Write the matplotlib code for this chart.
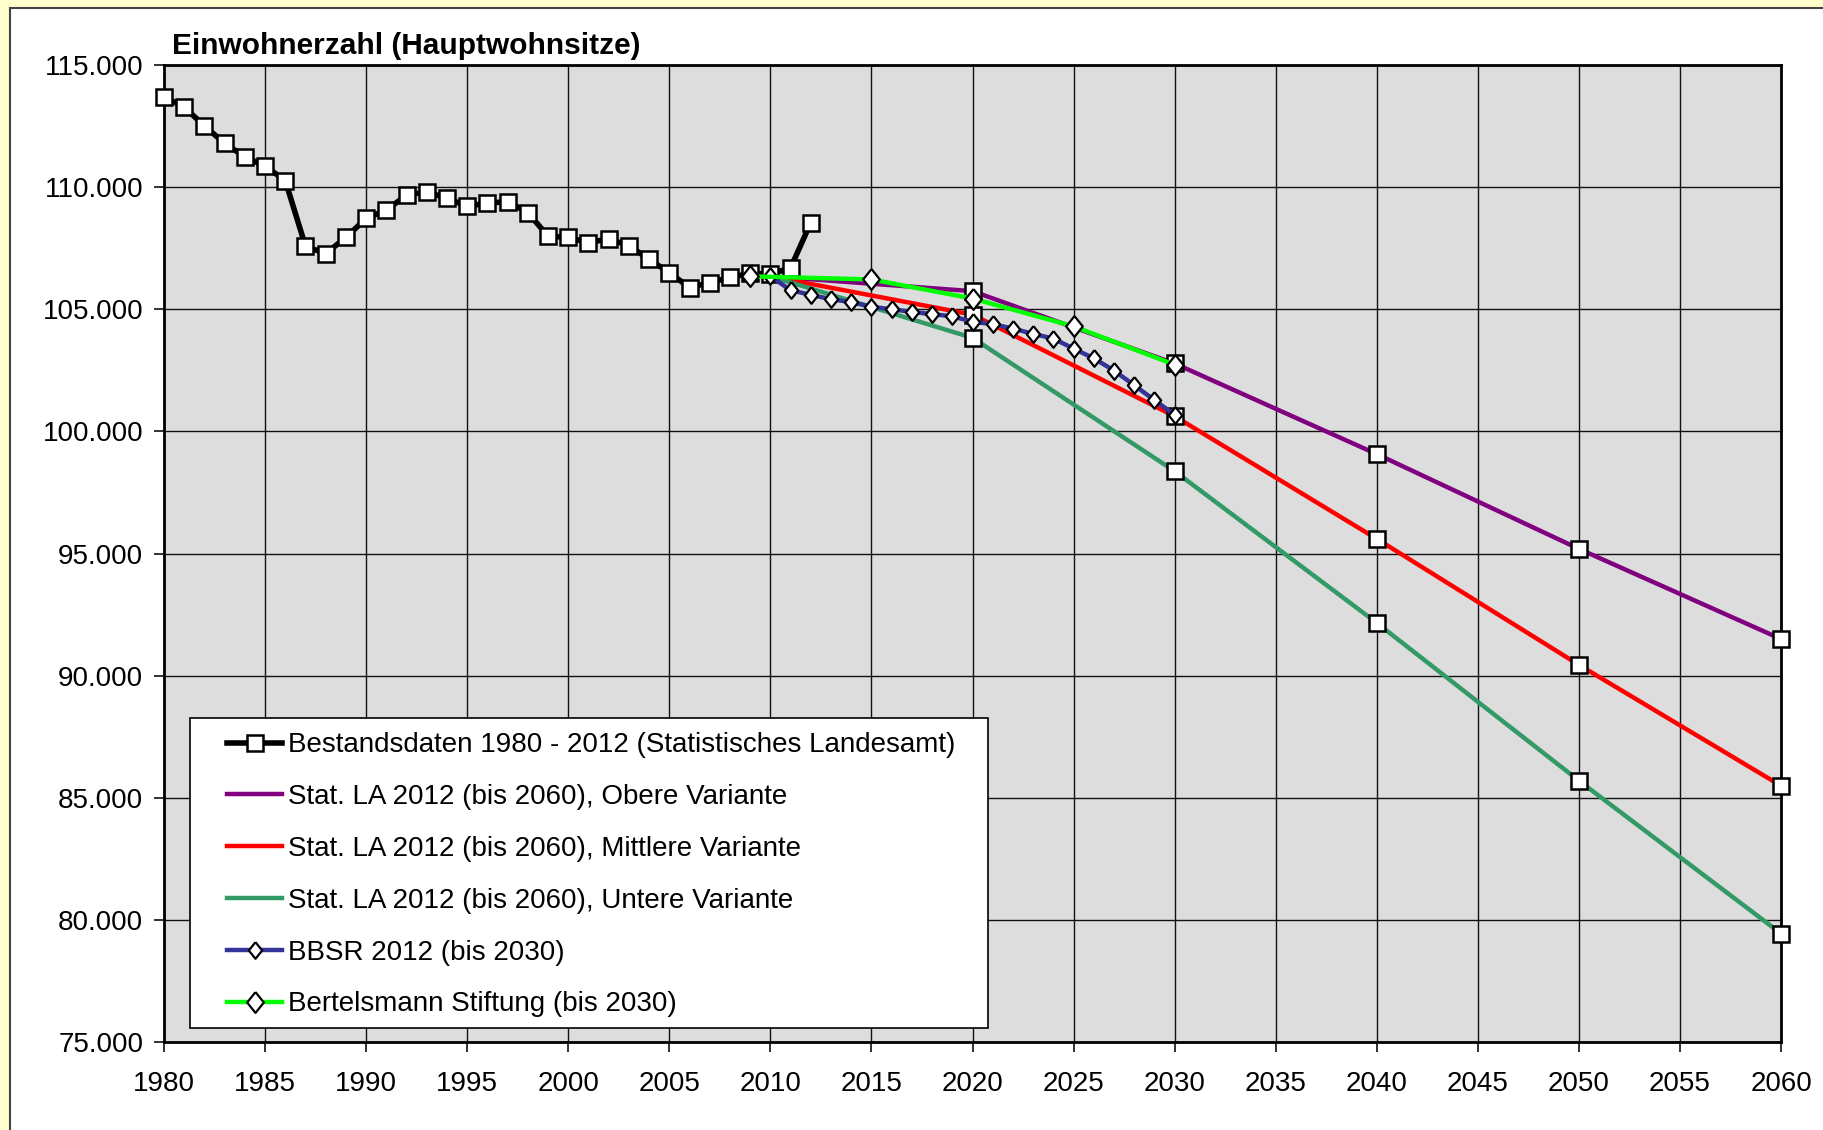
import matplotlib.pyplot as plt
from matplotlib.patches import Rectangle
from matplotlib.ticker import FuncFormatter
import numpy as np

plt.rcParams['font.family'] = ['Liberation Sans', 'DejaVu Sans']

# Bestandsdaten 1980 - 2012
hist_years = list(range(1980, 2013))
hist_values = [113700, 113270, 112510, 111790, 111240, 110860, 110270, 107580,
               107280, 107940, 108720, 109060, 109670, 109810, 109540, 109220,
               109340, 109410, 108960, 107990, 107940, 107730, 107880, 107610,
               107040, 106500, 105890, 106090, 106300, 106470, 106440, 106690,
               108550]

# Stat. LA 2012 Varianten
la_years = [2010, 2020, 2030, 2040, 2050, 2060]
la_obere = [106350, 105740, 102780, 99070, 95190, 91500]
la_mittlere = [106350, 104780, 100620, 95600, 90440, 85490]
la_untere = [106350, 103830, 98370, 92160, 85700, 79440]

# BBSR 2012
bbsr_years = list(range(2010, 2031))
bbsr_values = [106350, 105780, 105590, 105410, 105290, 105100, 105000, 104890,
               104800, 104710, 104490, 104390, 104210, 103990, 103800, 103390,
               102990, 102490, 101890, 101280, 100680]

# Bertelsmann Stiftung
bert_years = [2009, 2015, 2020, 2025, 2030]
bert_values = [106350, 106220, 105440, 104300, 102730]

labels = ['Bestandsdaten 1980 - 2012 (Statistisches Landesamt)',
          'Stat. LA 2012 (bis 2060), Obere Variante',
          'Stat. LA 2012 (bis 2060), Mittlere Variante',
          'Stat. LA 2012 (bis 2060), Untere Variante',
          'BBSR 2012 (bis 2030)',
          'Bertelsmann Stiftung (bis 2030)']

# Excel-style diamond, a bit wider than matplotlib's 'd'
diamond = [(0, 1), (0.8, 0), (0, -1), (-0.8, 0), (0, 1)]

fig = plt.figure(figsize=(18.23, 11.30), dpi=100, facecolor='#FFFFCC')
fig.patches.append(Rectangle((10 / 1823, -0.05), 1.1, 1.05 - 8 / 1130,
                             transform=fig.transFigure, facecolor='white',
                             edgecolor='#444444', linewidth=1.5, zorder=-10))

ax = fig.add_axes([164 / 1823, 88 / 1130, 1617 / 1823, 977 / 1130])
ax.set_facecolor('#DDDDDD')

sq = dict(marker='s', markersize=12, markerfacecolor='white',
          markeredgecolor='black', markeredgewidth=1.8, clip_on=False)

h_hist, = ax.plot(hist_years, hist_values, color='black', lw=4, zorder=4,
                  label=labels[0], **sq)

la_colors = ['#800080', '#FF0000', '#339966']
handles = [h_hist]
for vals, col, lab in zip([la_obere, la_mittlere, la_untere], la_colors, labels[1:4]):
    h, = ax.plot(la_years, vals, color=col, lw=3.2, zorder=3, label=lab)
    ax.plot(la_years[1:], vals[1:], linestyle='none', zorder=3, **sq)
    handles.append(h)

h_bbsr, = ax.plot(bbsr_years, bbsr_values, color='#333399', lw=3.2, zorder=5,
                  marker=diamond, markersize=12, markerfacecolor='white',
                  markeredgecolor='black', markeredgewidth=1.6, label=labels[4])
h_bert, = ax.plot(bert_years, bert_values, color='#00FF00', lw=3.2, zorder=6,
                  marker=diamond, markersize=15, markerfacecolor='white',
                  markeredgecolor='black', markeredgewidth=1.6, label=labels[5])
handles += [h_bbsr, h_bert]

ax.set_xlim(1980, 2060)
ax.set_ylim(75000, 115000)
ax.set_xticks(np.arange(1980, 2061, 5))
ax.set_yticks(np.arange(75000, 115001, 5000))
ax.yaxis.set_major_formatter(FuncFormatter(lambda v, p: f'{int(v):,}'.replace(',', '.')))
ax.grid(True, color='#111111', linewidth=1.0, zorder=1)
ax.set_axisbelow(True)
ax.tick_params(direction='out', length=7, width=1.3, labelsize=20, color='#222222')
ax.tick_params(axis='x', pad=14)
ax.tick_params(axis='y', pad=8)
for s in ax.spines.values():
    s.set_linewidth(2)
    s.set_color('black')

fig.text(172 / 1823, 1 - 46 / 1130, 'Einwohnerzahl (Hauptwohnsitze)', fontsize=21.5,
         fontweight='bold', va='center', ha='left')

# legend box drawn separately so its padding can match the original
ax.add_patch(Rectangle((0.0158, 0.0143), 0.494, 0.317, transform=ax.transAxes,
                       facecolor='white', edgecolor='black', linewidth=1.2,
                       zorder=9, clip_on=False))
leg = ax.legend(handles=handles, loc='upper left',
                bbox_to_anchor=(0.0388, 0.317), frameon=False,
                fontsize=20, handlelength=2.0, handletextpad=0.2,
                labelspacing=0.93, borderpad=0, borderaxespad=0)
leg.set_zorder(10)

fig.savefig('out.png', dpi=100, facecolor=fig.get_facecolor())
